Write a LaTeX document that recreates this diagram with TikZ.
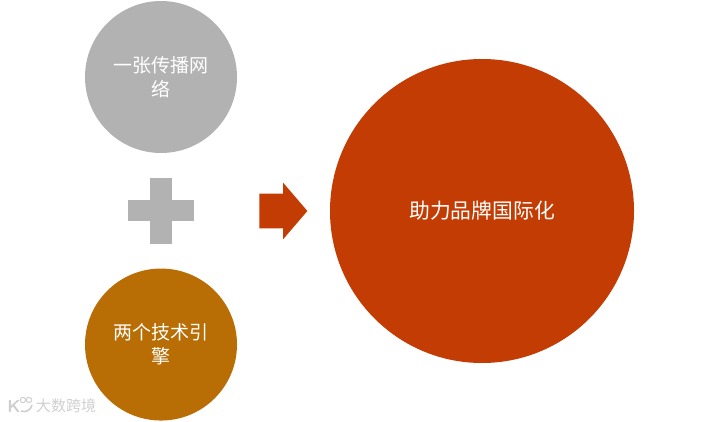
\documentclass[tikz,border=0pt]{standalone}
\usepackage{fontspec}
\newfontfamily\cjk{Noto Sans CJK SC}
\usepackage{tikz}
\usetikzlibrary{positioning, arrows.meta, shapes.arrows, calc}
\definecolor{greyfill}{HTML}{B2B2B2}
\definecolor{ochrefill}{HTML}{B86E05}
\definecolor{rustfill}{HTML}{C33C04}
\definecolor{markgrey}{HTML}{CFCFCF}

\begin{document}
\begin{tikzpicture}[
        x=0.75pt, y=-0.75pt,
        disc/.style={circle, inner sep=0pt, minimum size=114pt, align=center, text=white, font=\cjk\fontsize{14.25}{18}\selectfont},
        bar/.style={rectangle, inner sep=0pt, fill=greyfill}
    ]
    \useasboundingbox (0,0) rectangle (720,421);
    % Nodes
    \node[disc, fill=greyfill] (network) at (161,77) {一张传播网\\络};
    \node[disc, fill=ochrefill, below=86.25pt of network] (engine) {两个技术引\\擎};
    \node[disc, fill=rustfill, minimum size=228pt, font=\cjk\fontsize{15.6}{18}\selectfont] (brand) at (482,211) {助力品牌国际化};

    % Plus and arrow
    \node[bar, minimum width=49.5pt, minimum height=16pt] (plush) at ($(network)!.5!(engine)$) {};
    \node[bar, minimum width=16pt, minimum height=49.5pt] (plusv) at (plush) {};
    \node[single arrow, fill=rustfill, inner sep=0pt, text height=25.5pt, text depth=0pt, minimum height=36pt, minimum width=42pt, single arrow head extend=8.25pt, single arrow head indent=0pt, single arrow tip angle=98.8, left=16.5pt of brand] (toarrow) {};

    % Watermark
    \node[text=markgrey, font=\cjk\fontsize{11.25}{12}\selectfont, inner sep=0pt] (markname) at (66,406) {大数跨境};
    \node[text=markgrey, font=\sffamily\bfseries\fontsize{13}{13}\selectfont, inner sep=0pt] (markk) at (14,406) {K};
    \node[draw=markgrey, circle, line width=0.8pt, inner sep=0pt, minimum size=4pt] (markringa) at (23,400) {};
    \node[draw=markgrey, circle, line width=0.8pt, inner sep=0pt, minimum size=4pt] (markringb) at (29,400) {};
    \draw[markgrey, line width=1.2pt] (21,411) to[out=-25, in=-100] (32,405);
\end{tikzpicture}
\end{document}
